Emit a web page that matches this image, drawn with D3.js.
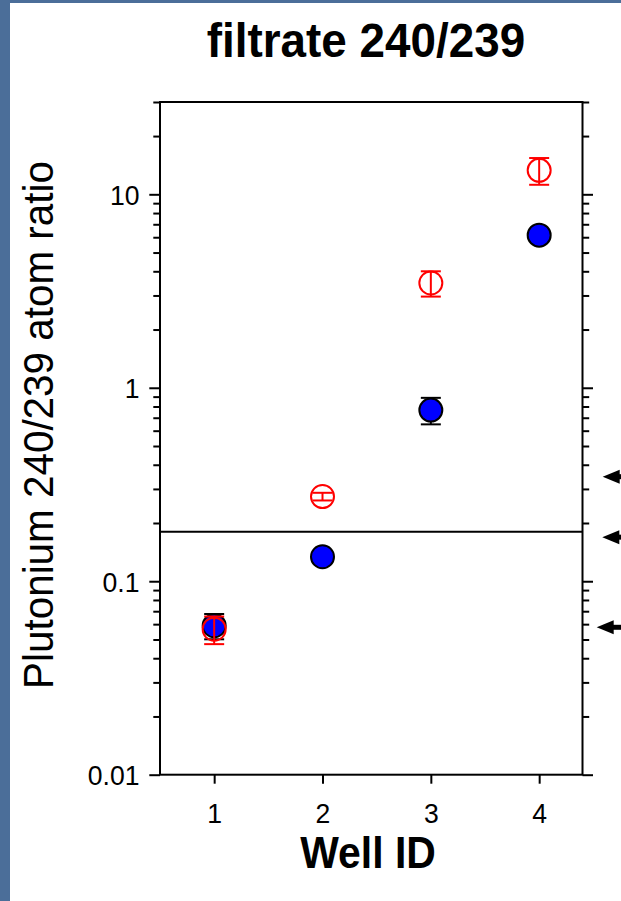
<!DOCTYPE html>
<html>
<head>
<meta charset="utf-8">
<script src="https://cdn.jsdelivr.net/npm/d3@7"></script>
<style>
  html, body { margin: 0; padding: 0; background: #4b6e99; }
  svg { display: block; }
  text { font-family: "Liberation Sans", Arial, Helvetica, sans-serif; fill: #000; }
  .tick text { font-size: 28px; }
</style>
</head>
<body>
<script>
// ---- data ----
const wells = [1, 2, 3, 4];
const xTicks = [1, 2, 3, 4];
const blueValues = [0.0589, 0.1338, 0.767, 6.15];
const blueErrors = [0.0088, 0.004, 0.12, 0.3];
const redValues = [0.0565, 0.274, 3.48, 13.3];
const redErrors = [0.0092, 0.0125, 0.52, 2.1];
const referenceValue = 0.18;
const arrowValues = [0.347, 0.169, 0.0578];
const yMajorTicks = [0.01, 0.1, 1, 10];
const yTickLabels = ["0.01", "0.1", "1", "10"];
const titleText = "filtrate 240/239";
const xTitle = "Well ID";
const yTitle = "Plutonium 240/239 atom ratio";

// ---- layout ----
const W = 621, H = 901;
const mLeft = 160, mRight = 582.5, mTop = 102, mBottom = 774.7;
const sx = 0.95; // horizontal squeeze of tick label glyphs

const svg = d3.select("body").append("svg").attr("width", W).attr("height", H);

// slide background
svg.append("rect").attr("x", 0).attr("y", 0).attr("width", W).attr("height", H).attr("fill", "#4b6e99");
svg.append("rect").attr("x", 10).attr("y", 3).attr("width", W - 10).attr("height", H - 3).attr("fill", "#ffffff");

const x = d3.scaleLinear().domain([0.5, 4.4]).range([mLeft, mRight]);
const y = d3.scaleLog().domain([0.01, 30]).range([mBottom, mTop]);

// minor ticks
const minorTicks = [];
for (let d = -2; d <= 1; d++) {
  for (let m = 2; m <= 9; m++) {
    const v = m * Math.pow(10, d);
    if (v <= 30) minorTicks.push(v);
  }
}

// left axis
const gL = svg.append("g").attr("transform", `translate(${mLeft},0)`);
gL.call(d3.axisLeft(y).tickValues(minorTicks).tickSize(6.7).tickFormat(""));
gL.call(g => g.select(".domain").remove());
const gL2 = svg.append("g").attr("transform", `translate(${mLeft},0)`);
gL2.call(d3.axisLeft(y).tickValues(yMajorTicks).tickSize(10.7).tickPadding(11)
  .tickFormat((d, i) => yTickLabels[i]));
gL2.call(g => g.select(".domain").remove());
gL2.selectAll(".tick text").attr("x", -20.5 / sx).attr("transform", `scale(${sx},1)`).attr("dy", "0.35em");

// right axis
const gR = svg.append("g").attr("transform", `translate(${mRight},0)`);
gR.call(d3.axisRight(y).tickValues(minorTicks).tickSize(6.7).tickFormat(""));
gR.call(g => g.select(".domain").remove());
const gR2 = svg.append("g").attr("transform", `translate(${mRight},0)`);
gR2.call(d3.axisRight(y).tickValues(yMajorTicks).tickSize(10.5).tickFormat(""));
gR2.call(g => g.select(".domain").remove());

// bottom axis
const gB = svg.append("g").attr("transform", `translate(0,${mBottom})`);
gB.call(d3.axisBottom(x).tickValues(xTicks).tickSize(9).tickPadding(19).tickFormat(d3.format("d")));
gB.call(g => g.select(".domain").remove());
gB.selectAll(".tick text").attr("transform", `scale(${sx},1)`);

svg.selectAll(".tick line").attr("stroke", "#000").attr("stroke-width", 2);
svg.selectAll(".tick text").style("font-size", "28px")
  .style("font-family", "'Liberation Sans', Arial, sans-serif").attr("fill", "#000");

// frame
svg.append("rect").attr("x", mLeft).attr("y", mTop).attr("width", mRight - mLeft).attr("height", mBottom - mTop)
  .attr("fill", "none").attr("stroke", "#000").attr("stroke-width", 2);

// reference line
svg.append("line").attr("x1", mLeft).attr("x2", mRight)
  .attr("y1", y(referenceValue)).attr("y2", y(referenceValue))
  .attr("stroke", "#000").attr("stroke-width", 2);

// error bar helper
function errorBars(vals, errs, color) {
  const g = svg.append("g").attr("stroke", color).attr("stroke-width", 2).attr("fill", "none");
  wells.forEach((w, i) => {
    const cx = x(w), yHi = y(vals[i] + errs[i]), yLo = y(vals[i] - errs[i]);
    g.append("line").attr("x1", cx).attr("x2", cx).attr("y1", yHi).attr("y2", yLo);
    g.append("line").attr("x1", cx - 10).attr("x2", cx + 10).attr("y1", yHi).attr("y2", yHi);
    g.append("line").attr("x1", cx - 10).attr("x2", cx + 10).attr("y1", yLo).attr("y2", yLo);
  });
}

// blue series
errorBars(blueValues, blueErrors, "#000");
svg.append("g").selectAll("circle").data(wells).join("circle")
  .attr("cx", d => x(d)).attr("cy", (d, i) => y(blueValues[i])).attr("r", 11.5)
  .attr("fill", "#0000ff").attr("stroke", "#000").attr("stroke-width", 2);

// red series
errorBars(redValues, redErrors, "#ff0000");
svg.append("g").selectAll("circle").data(wells).join("circle")
  .attr("cx", d => x(d)).attr("cy", (d, i) => y(redValues[i])).attr("r", 11.5)
  .attr("fill", "none").attr("stroke", "#ff0000").attr("stroke-width", 2);

// annotation arrows (cut off at the right edge)
const arrowTips = [602.7, 602.3, 596.7];
arrowValues.forEach((v, i) => {
  const ty = y(v), tx = arrowTips[i];
  svg.append("line").attr("x1", tx + 12).attr("x2", W + 5).attr("y1", ty).attr("y2", ty)
    .attr("stroke", "#000").attr("stroke-width", 5);
  svg.append("path").attr("d", `M${tx},${ty} L${tx + 17},${ty - 7} L${tx + 17},${ty + 7} Z`)
    .attr("fill", "#000");
});

// titles
svg.append("text").attr("transform", "translate(366,57) scale(0.955,1)").attr("text-anchor", "middle")
  .attr("font-size", 48).attr("font-weight", "bold").text(titleText);
svg.append("text").attr("transform", "translate(368,868) scale(0.93,1)").attr("text-anchor", "middle")
  .attr("font-size", 44).attr("font-weight", "bold").text(xTitle);
svg.append("text").attr("transform", "translate(53,425) rotate(-90) scale(0.94,1)").attr("text-anchor", "middle")
  .attr("font-size", 43).text(yTitle);
</script>
</body>
</html>
